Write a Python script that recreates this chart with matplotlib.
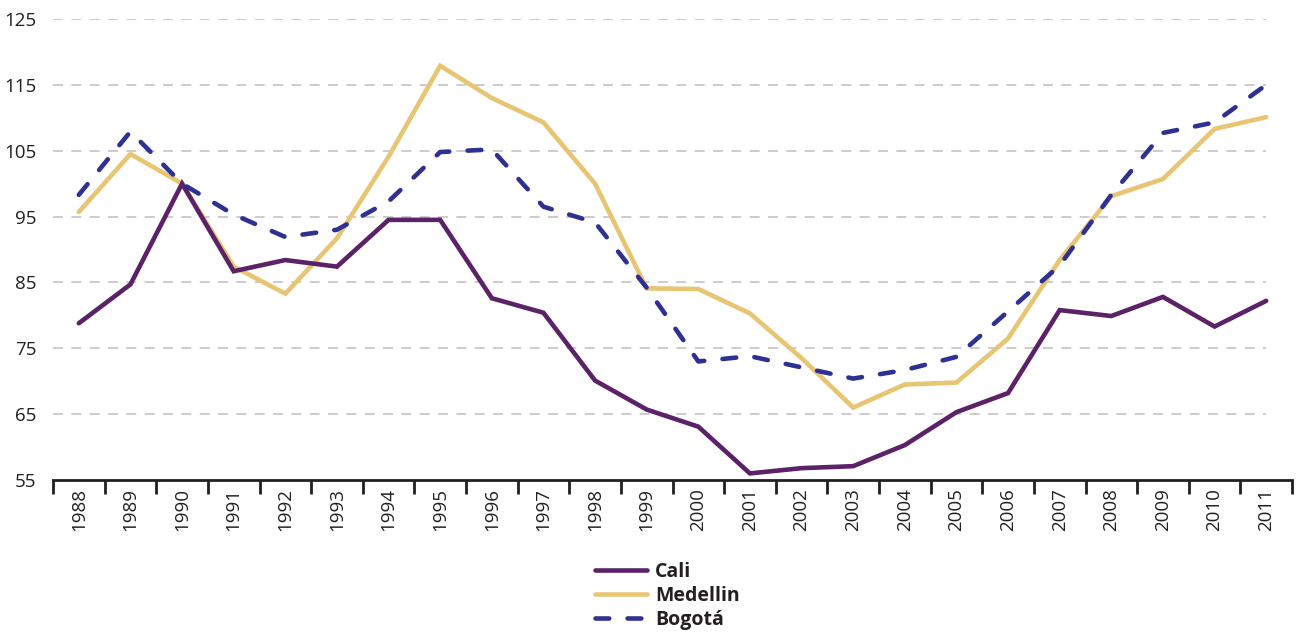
import matplotlib
matplotlib.use("Agg")
import matplotlib.pyplot as plt
import numpy as np

years = [str(y) for y in range(1988, 2012)]
cali = [78.8, 84.7, 100.0, 86.7, 88.4, 87.4, 94.5, 94.5, 82.6, 80.4, 70.1, 65.7,
        63.1, 56.0, 56.8, 57.1, 60.3, 65.3, 68.2, 80.8, 79.9, 82.8, 78.3, 82.2]
medellin = [95.7, 104.5, 100.0, 87.4, 83.3, 91.7, 104.1, 117.9, 113.0, 109.3, 100.0, 84.1,
            84.0, 80.3, 73.5, 66.0, 69.5, 69.8, 76.5, 88.4, 98.1, 100.7, 108.3, 110.1]
bogota = [98.3, 107.9, 100.0, 95.3, 91.9, 93.0, 97.3, 104.8, 105.2, 96.5, 94.1, 84.2,
          73.0, 73.8, 72.1, 70.4, 71.7, 73.7, 80.6, 87.6, 98.3, 107.7, 109.3, 115.0]
yticks = [55, 65, 75, 85, 95, 105, 115, 125]

plt.rcParams['font.family'] = ['Open Sans', 'DejaVu Sans']

fig = plt.figure(figsize=(13.06, 6.34), dpi=100)
ax = fig.add_axes([53/1306, 1-480/634, (1292-53)/1306, (480-19)/634])

x = np.arange(len(years))
ax.hlines(yticks[1:], -0.5, len(years)-1, colors='#c4c4c4', linewidth=1.2,
          linestyles=(0, (6, 5)), zorder=1)

ax.plot(x, cali, color='#5c2268', lw=3.3, solid_capstyle='round', solid_joinstyle='miter',
        label='Cali', zorder=3)
ax.plot(x, medellin, color='#e8c572', lw=3.3, solid_capstyle='round', solid_joinstyle='miter',
        label='Medellin', zorder=2)
ax.plot(x, bogota, color='#2e3192', lw=3.3, dashes=(3.0, 4.0), dash_capstyle='round',
        label='Bogotá', zorder=4)

ax.set_xlim(-0.5, len(years)-0.5)
ax.set_ylim(55, 125)
ax.set_yticks(yticks)
ax.set_yticklabels([str(v) for v in yticks], fontsize=13.5, color='#231f20')
ax.tick_params(axis='y', length=0, pad=12)

ax.set_xticks(x)
ax.set_xticklabels(years, rotation=90, fontsize=13.5, color='#231f20')
ax.set_xticks(np.arange(-0.5, len(years), 1), minor=True)
ax.tick_params(axis='x', which='major', length=0, pad=6)
ax.tick_params(axis='x', which='minor', length=10, width=2, color='#231f20')

for s in ['top', 'right', 'left']:
    ax.spines[s].set_visible(False)
ax.spines['bottom'].set_linewidth(2)
ax.spines['bottom'].set_color('#231f20')

leg = fig.legend(loc='upper center', bbox_to_anchor=(667/1306, 1-552/634), frameon=False,
                 prop={'weight': 'bold', 'size': 14}, handlelength=2.7, labelspacing=0.2,
                 handletextpad=0.4, borderpad=0)
for t in leg.get_texts():
    t.set_color('#231f20')

fig.savefig('out.png', dpi=100)
